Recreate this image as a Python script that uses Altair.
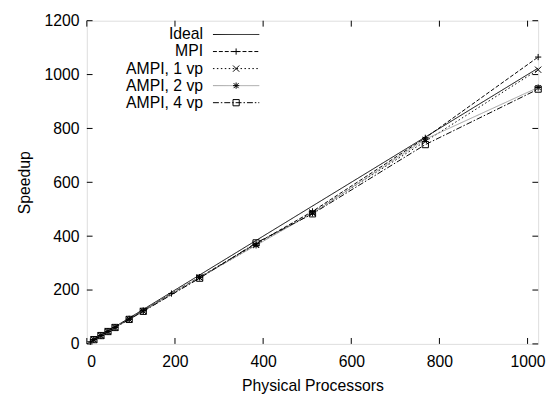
import altair as alt
import pandas as pd

# ---------------- data ----------------
series_names = ["Ideal", "MPI", "AMPI, 1 vp", "AMPI, 2 vp", "AMPI, 4 vp"]

ideal_x = [0, 1024]
ideal_y = [0, 1024]

mpi_x = [8, 16, 32, 48, 64, 96, 128, 192, 256, 384, 512, 768, 1024]
mpi_y = [8, 16, 31, 47, 62, 93, 124, 187, 248, 372, 492, 765, 1065]

ampi_x = [16, 32, 48, 64, 96, 128, 256, 384, 512, 768, 1024]
ampi1_y = [16, 31, 46, 61, 92, 122, 246, 368, 488, 752, 1018]
ampi2_y = [16, 31, 46, 61, 91, 122, 247, 366, 485, 760, 952]
ampi4_y = [16, 31, 46, 61, 91, 121, 244, 375, 483, 740, 946]

x_ticks = [0, 200, 400, 600, 800, 1000]
y_ticks = [0, 200, 400, 600, 800, 1000, 1200]

# ---------------- build tables ----------------
rows = []
for name, xs, ys in [
    ("Ideal", ideal_x, ideal_y),
    ("MPI", mpi_x, mpi_y),
    ("AMPI, 1 vp", ampi_x, ampi1_y),
    ("AMPI, 2 vp", ampi_x, ampi2_y),
    ("AMPI, 4 vp", ampi_x, ampi4_y),
]:
    for xv, yv in zip(xs, ys):
        rows.append({"series": name, "x": xv, "y": yv})
df = pd.DataFrame(rows)
df_pts = df[df.series != "Ideal"]

legend_df = pd.DataFrame({"series": series_names, "row": list(range(len(series_names)))})
legend_pts = legend_df[legend_df.series != "Ideal"]

xt_df = pd.DataFrame({"t": x_ticks})
yt_df = pd.DataFrame({"t": y_ticks})

# ---------------- styles ----------------
FONT = "Liberation Sans"
FS = 16
colors = ["black", "black", "black", "#a0a0a0", "black"]
dashes = [[1, 0], [4, 2], [1.5, 2.5], [1, 0], [6, 2, 1.5, 2]]
plus_path = "M-1,0L1,0M0,-1L0,1"
x_path = "M-1,-1L1,1M-1,1L1,-1"
star_path = "M-1,0L1,0M0,-1L0,1M-0.8,-0.8L0.8,0.8M-0.8,0.8L0.8,-0.8"
shapes = [plus_path, x_path, star_path, "square"]

xscale = alt.Scale(domain=[0, 1024], nice=False, zero=False)
yscale = alt.Scale(domain=[0, 1200], nice=False)
cscale = alt.Scale(domain=series_names, range=colors)
dscale = alt.Scale(domain=series_names, range=dashes)
sscale = alt.Scale(domain=series_names[1:], range=shapes)

W, H = 458, 328

base_x = alt.X("x:Q", scale=xscale,
               axis=alt.Axis(values=x_ticks, format="d", title="Physical Processors", grid=False,
                             ticks=False, domain=False, labelPadding=10, titlePadding=8,
                             labelFont=FONT, labelFontSize=FS, titleFont=FONT,
                             titleFontSize=FS, titleFontWeight="normal",
                             labelColor="black", titleColor="black"))
base_y = alt.Y("y:Q", scale=yscale,
               axis=alt.Axis(values=y_ticks, format="d", title="Speedup", grid=False,
                             ticks=False, domain=False, labelPadding=8, titlePadding=12,
                             labelFont=FONT, labelFontSize=FS, titleFont=FONT,
                             titleFontSize=FS, titleFontWeight="normal",
                             labelColor="black", titleColor="black"))

lines = alt.Chart(df).mark_line(strokeWidth=1, clip=True).encode(
    x=base_x,
    y=base_y,
    color=alt.Color("series:N", scale=cscale, legend=None),
    strokeDash=alt.StrokeDash("series:N", scale=dscale, legend=None),
    detail="series:N",
)

points = alt.Chart(df_pts).mark_point(filled=False, size=40, strokeWidth=1,
                                       color="black", opacity=1).encode(
    x=alt.X("x:Q", scale=xscale),
    y=alt.Y("y:Q", scale=yscale),
    shape=alt.Shape("series:N", scale=sscale, legend=None),
)

TL = 13   # tick length in x data units (~6px)
TLY = 22  # in y data units (~6px)
ticks_bottom = alt.Chart(xt_df).mark_rule(color="black", strokeWidth=1).encode(
    x=alt.X("t:Q", scale=xscale), y=alt.datum(0), y2=alt.datum(TLY))
ticks_top = alt.Chart(xt_df).mark_rule(color="black", strokeWidth=1).encode(
    x=alt.X("t:Q", scale=xscale), y=alt.datum(1200), y2=alt.datum(1200 - TLY))
ticks_left = alt.Chart(yt_df).mark_rule(color="black", strokeWidth=1).encode(
    y=alt.Y("t:Q", scale=yscale), x=alt.datum(0), x2=alt.datum(TL))
ticks_right = alt.Chart(yt_df).mark_rule(color="black", strokeWidth=1).encode(
    y=alt.Y("t:Q", scale=yscale), x=alt.datum(1024), x2=alt.datum(1024 - TL))

# ---------------- legend (gnuplot style: label left of sample) ----------------
leg_calc = "14 + datum.row * 17.3"
leg_text = alt.Chart(legend_df).transform_calculate(ly=leg_calc).mark_text(
    align="right", baseline="middle", font=FONT, fontSize=FS, color="black").encode(
    x=alt.value(118), y=alt.Y("ly:Q", scale=None), text="series:N")
leg_line = alt.Chart(legend_df).transform_calculate(ly=leg_calc).mark_rule(strokeWidth=1).encode(
    x=alt.value(128), x2=alt.value(175), y=alt.Y("ly:Q", scale=None),
    color=alt.Color("series:N", scale=cscale, legend=None),
    strokeDash=alt.StrokeDash("series:N", scale=dscale, legend=None))
leg_pt = alt.Chart(legend_pts).transform_calculate(ly=leg_calc).mark_point(
    filled=False, size=40, strokeWidth=1, color="black", opacity=1).encode(
    x=alt.value(151.5), y=alt.Y("ly:Q", scale=None),
    shape=alt.Shape("series:N", scale=sscale, legend=None))

chart = alt.layer(
    lines, points, ticks_bottom, ticks_top, ticks_left, ticks_right,
    leg_line, leg_pt, leg_text
).properties(
    width=W, height=H,
    padding={"left": 80, "top": 10, "right": 10, "bottom": 52},
    autosize=alt.AutoSizeParams(type="none"),
).configure_view(stroke="black", strokeWidth=1).configure(background="white")

chart.save("out.html", embed_options={"renderer": "svg", "actions": False})
